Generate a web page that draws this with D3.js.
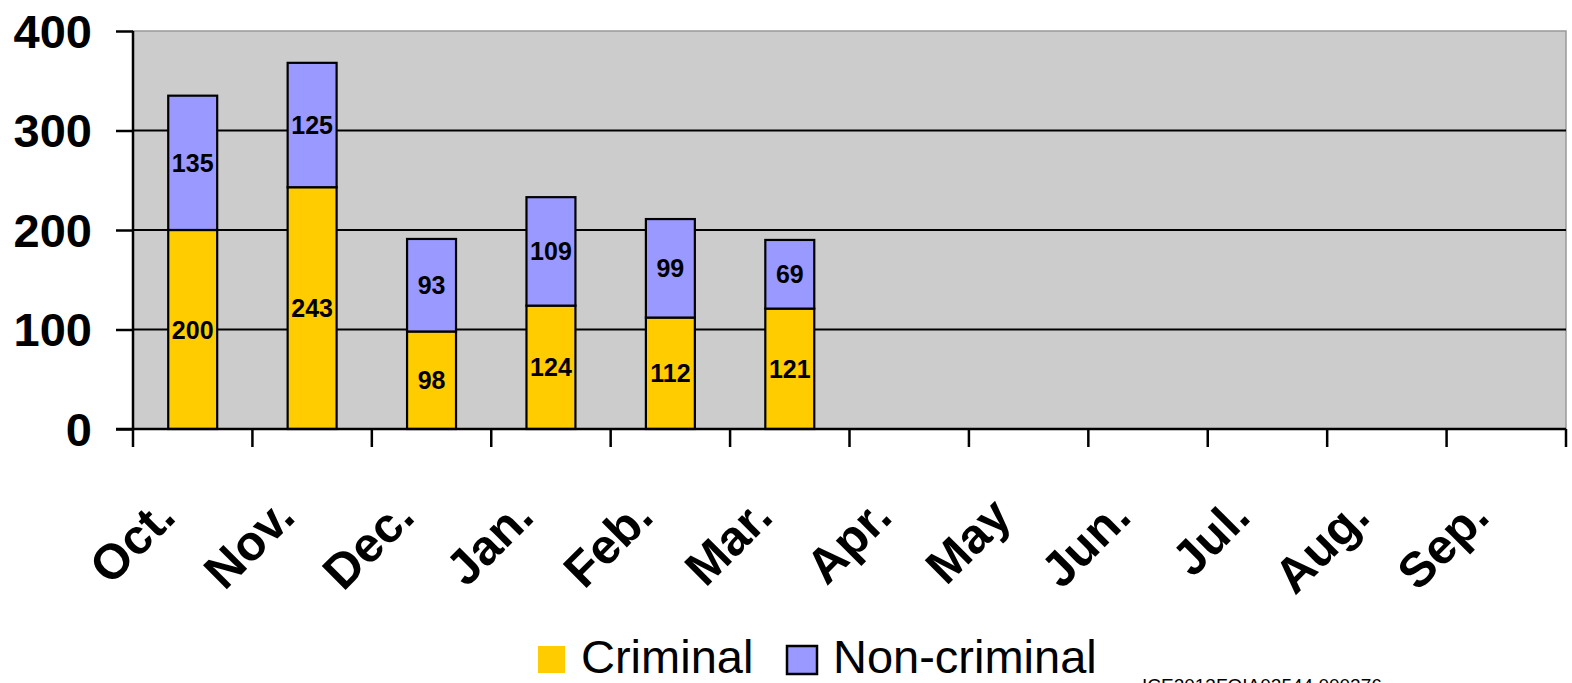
<!DOCTYPE html>
<html>
<head>
<meta charset="utf-8">
<script src="https://cdn.jsdelivr.net/npm/d3@7"></script>
<style>
  html, body { margin: 0; padding: 0; background: #ffffff; }
  svg { display: block; }
  text { font-family: "Liberation Sans", Arial, sans-serif; }
</style>
</head>
<body>
<svg id="chart" width="1572" height="683"></svg>
<script>
const months = ["Oct.", "Nov.", "Dec.", "Jan.", "Feb.", "Mar.", "Apr.", "May", "Jun.", "Jul.", "Aug.", "Sep."];
const criminal = [200, 243, 98, 124, 112, 121];
const nonCriminal = [135, 125, 93, 109, 99, 69];
const yTicks = [0, 100, 200, 300, 400];
const seriesNames = ["Criminal", "Non-criminal"];
const seriesColors = ["#ffcc00", "#9999ff"];
const watermark = "ICE2013FOIA02544.000276";

const svg = d3.select("#chart");
const pL = 133, pR = 1566, pT = 31, pB = 429;

const x = d3.scaleBand().domain(months).range([pL, pR]).paddingInner(0.59).paddingOuter(0.295);
const xb = d3.scaleBand().domain(months).range([pL, pR]);
const y = d3.scaleLinear().domain([0, 400]).range([pB, pT]);

// plot background
svg.append("rect").attr("x", pL).attr("y", pT).attr("width", pR - pL).attr("height", pB - pT)
  .attr("fill", "#cccccc").attr("stroke", "#999999").attr("stroke-width", 1.5);

// gridlines
svg.append("g").selectAll("line").data(yTicks.filter(d => d > 0 && d < 400)).join("line")
  .attr("x1", pL).attr("x2", pR).attr("y1", d => y(d)).attr("y2", d => y(d))
  .attr("stroke", "#000").attr("stroke-width", 2.2);

// stacked data
const rows = criminal.map((c, i) => ({ month: months[i], Criminal: c, "Non-criminal": nonCriminal[i] }));
const stack = d3.stack().keys(seriesNames)(rows);

const g = svg.append("g");
stack.forEach((layer, li) => {
  g.append("g").selectAll("rect").data(layer).join("rect")
    .attr("x", d => x(d.data.month))
    .attr("width", x.bandwidth())
    .attr("y", d => y(d[1]))
    .attr("height", d => y(d[0]) - y(d[1]))
    .attr("fill", seriesColors[li])
    .attr("stroke", "#000").attr("stroke-width", 2.2);
});
stack.forEach((layer, li) => {
  g.append("g").selectAll("text").data(layer).join("text")
    .attr("x", d => x(d.data.month) + x.bandwidth() / 2)
    .attr("y", d => y((d[0] + d[1]) / 2))
    .attr("dy", "0.36em")
    .attr("text-anchor", "middle")
    .attr("font-size", 25).attr("font-weight", "bold").attr("fill", "#000")
    .text(d => d[1] - d[0]);
});

// y axis
const yAxis = d3.axisLeft(y).tickValues(yTicks).tickSize(17).tickPadding(24);
const ya = svg.append("g").attr("transform", `translate(${pL},0)`).call(yAxis);
ya.select(".domain").attr("stroke", "#000").attr("stroke-width", 2.5).attr("d", `M0,${pT}V${pB}`);
ya.selectAll(".tick line").attr("stroke", "#000").attr("stroke-width", 2.5);
ya.selectAll(".tick text").attr("font-size", 47).attr("font-weight", "bold").attr("fill", "#000")
  .attr("font-family", "'Liberation Sans', Arial, sans-serif").attr("dy", "0.35em");

// x axis line and boundary ticks
svg.append("line").attr("x1", pL - 17).attr("x2", pR).attr("y1", pB).attr("y2", pB)
  .attr("stroke", "#000").attr("stroke-width", 2.5);
const boundaries = months.map(m => xb(m)).concat([pR]);
svg.append("g").selectAll("line").data(boundaries).join("line")
  .attr("x1", d => d).attr("x2", d => d).attr("y1", pB).attr("y2", pB + 18)
  .attr("stroke", "#000").attr("stroke-width", 2.5);

// x labels
svg.append("g").selectAll("text").data(months).join("text")
  .attr("transform", m => `translate(${xb(m) + xb.bandwidth() / 2 - 15},${519}) rotate(-45)`)
  .attr("text-anchor", "end")
  .attr("font-size", 49).attr("font-weight", "bold").attr("fill", "#000")
  .text(m => m);

// legend
const legend = svg.append("g");
legend.append("rect").attr("x", 538).attr("y", 646).attr("width", 27).attr("height", 27).attr("fill", seriesColors[0]);
legend.append("text").attr("x", 581).attr("y", 673).attr("font-size", 47).attr("fill", "#000").text(seriesNames[0]);
legend.append("rect").attr("x", 787).attr("y", 646).attr("width", 30).attr("height", 28)
  .attr("fill", seriesColors[1]).attr("stroke", "#000").attr("stroke-width", 2.5);
legend.append("text").attr("x", 833).attr("y", 673).attr("font-size", 47).attr("fill", "#000").text(seriesNames[1]);

// watermark
svg.append("text").attr("x", 1142).attr("y", 692).attr("font-size", 19).attr("fill", "#000").text(watermark);
</script>
</body>
</html>
